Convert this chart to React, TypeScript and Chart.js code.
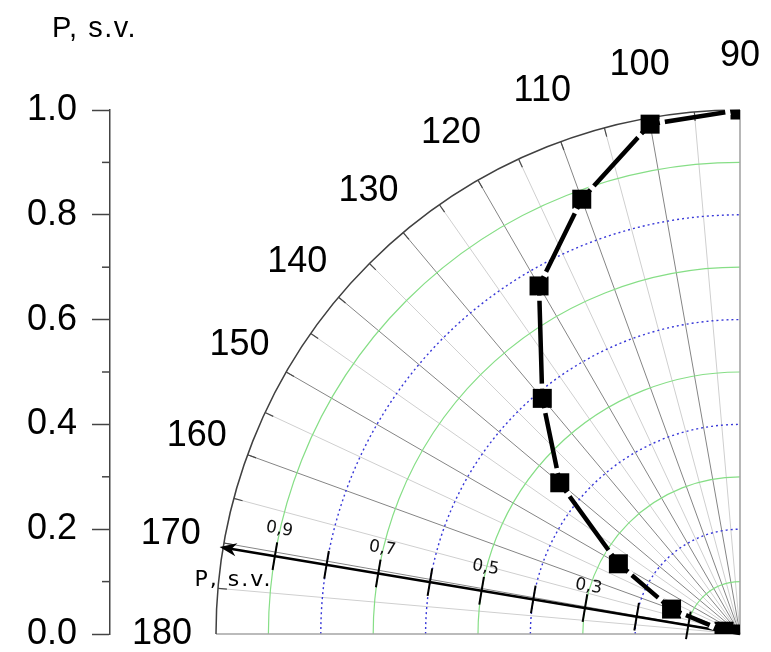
import React, { useEffect, useRef } from "react";
import { Chart, registerables } from "chart.js";

Chart.register(...registerables);

// ---- data ----
const angles = [90, 100, 110, 120, 130, 140, 150, 160, 170, 180];
const pValues = [1.0, 0.988, 0.883, 0.767, 0.587, 0.449, 0.268, 0.139, 0.031, 0.0];
const yTickValues = [0, 0.2, 0.4, 0.6, 0.8, 1.0];
const yMinorTicks = [0.1, 0.3, 0.5, 0.7, 0.9];
const angleLabels = [90, 100, 110, 120, 130, 140, 150, 160, 170, 180];
const ringValues = [0.1, 0.2, 0.3, 0.4, 0.5, 0.6, 0.7, 0.8, 0.9];
const axisTickValues = [0.1, 0.2, 0.3, 0.4, 0.5, 0.6, 0.7, 0.8, 0.9];
const axisLabelValues = [0.9, 0.7, 0.5, 0.3];
const axisLabelTexts = ["0,9", "0,7", "0,5", "0,3"];
const axisAngle = 170.5;
const axisTitle = "P, s.v.";

const toRad = (d: number) => (d * Math.PI) / 180;
const points = angles.map((a, i) => ({
  x: pValues[i] * Math.cos(toRad(a)),
  y: pValues[i] * Math.sin(toRad(a)),
}));

const SANS = "'Liberation Sans', Arial, sans-serif";
const DEJA = "'DejaVu Sans', sans-serif";

const polarPlugin = {
  id: "polarGrid",
  beforeDatasetsDraw(chart: any) {
    const { ctx } = chart;
    const xs = chart.scales.x;
    const ys = chart.scales.y;
    const cx = xs.getPixelForValue(0);
    const cy = ys.getPixelForValue(0);
    const R = cy - ys.getPixelForValue(1);
    const pt = (deg: number, r: number) => {
      const a = toRad(deg);
      return [cx + Math.cos(a) * r * R, cy - Math.sin(a) * r * R];
    };
    ctx.save();
    // radial lines
    for (let d = 95; d < 180; d += 5) {
      const [ex, ey] = pt(d, 1);
      ctx.strokeStyle = d % 10 === 0 ? "#858585" : "#cfcfcf";
      ctx.lineWidth = 1;
      ctx.beginPath();
      ctx.moveTo(cx, cy);
      ctx.lineTo(ex, ey);
      ctx.stroke();
    }
    // rings
    ringValues.forEach((r) => {
      const even = Math.round(r * 10) % 2 === 0;
      ctx.setLineDash(even ? [2, 3] : []);
      ctx.strokeStyle = even ? "#3838d8" : "#86de86";
      ctx.lineWidth = even ? 1.4 : 1.2;
      ctx.beginPath();
      ctx.arc(cx, cy, r * R, Math.PI, 1.5 * Math.PI);
      ctx.stroke();
    });
    ctx.setLineDash([]);
    // 90 & 180 border lines
    ctx.strokeStyle = "#a5a5a5";
    ctx.lineWidth = 1.6;
    ctx.beginPath();
    ctx.moveTo(cx, cy - R);
    ctx.lineTo(cx, cy);
    ctx.lineTo(cx - R, cy);
    ctx.stroke();
    // outer arc
    ctx.strokeStyle = "#404040";
    ctx.lineWidth = 1.5;
    ctx.beginPath();
    ctx.arc(cx, cy, R, Math.PI, 1.5 * Math.PI);
    ctx.stroke();
    // outer tick marks
    ctx.strokeStyle = "#4a4a4a";
    ctx.lineWidth = 1.2;
    for (let d = 95; d < 180; d += 5) {
      const [ax, ay] = pt(d, 1);
      const [bx, by] = pt(d, 1 - 9 / R);
      ctx.beginPath();
      ctx.moveTo(ax, ay);
      ctx.lineTo(bx, by);
      ctx.stroke();
    }
    // angle labels
    ctx.fillStyle = "#000";
    ctx.font = `36px ${SANS}`;
    ctx.textAlign = "center";
    ctx.textBaseline = "middle";
    angleLabels.forEach((d) => {
      const [lx, ly] = pt(d, 578 / 524);
      ctx.fillText(String(d), lx, ly);
    });

    // tilted P axis with arrow
    const a = toRad(axisAngle);
    const ux = Math.cos(a);
    const uy = -Math.sin(a);
    const nx = -uy;
    const ny = ux;
    const sgn = ny < 0 ? 1 : -1;
    const px = nx * sgn;
    const py = ny * sgn;
    const [tx, ty] = pt(axisAngle, 1.007);
    ctx.strokeStyle = "#000";
    ctx.lineWidth = 2.6;
    ctx.beginPath();
    ctx.moveTo(cx, cy);
    ctx.lineTo(tx - ux * 8, ty - uy * 8);
    ctx.stroke();
    ctx.fillStyle = "#000";
    ctx.beginPath();
    ctx.moveTo(tx, ty);
    ctx.lineTo(tx - ux * 17 + px * 6.5, ty - uy * 17 + py * 6.5);
    ctx.lineTo(tx - ux * 12, ty - uy * 12);
    ctx.lineTo(tx - ux * 17 - px * 6.5, ty - uy * 17 - py * 6.5);
    ctx.closePath();
    ctx.fill();
    // axis ticks
    ctx.lineWidth = 2;
    axisTickValues.forEach((r) => {
      const [qx, qy] = pt(axisAngle, r);
      ctx.beginPath();
      ctx.moveTo(qx - px * 14, qy - py * 14);
      ctx.lineTo(qx + px * 14, qy + py * 14);
      ctx.stroke();
    });
    // axis tick labels
    const rot = Math.atan2(-uy, -ux);
    ctx.font = `17px ${DEJA}`;
    ctx.fillStyle = "#111";
    axisLabelValues.forEach((r, i) => {
      const [qx, qy] = pt(axisAngle, r);
      const off = 19 + 9 * r;
      ctx.save();
      ctx.translate(qx + px * off, qy + py * off);
      ctx.rotate(rot);
      ctx.fillText(axisLabelTexts[i], 0, 0);
      ctx.restore();
    });
    // axis title near arrow tip
    ctx.font = `22px ${DEJA}`;
    ctx.textAlign = "left";
    ctx.textBaseline = "alphabetic";
    ctx.fillStyle = "#000";
    (ctx as any).letterSpacing = "2px";
    ctx.fillText(axisTitle, tx - 25, ty + 39);

    // left axis minor ticks
    (ctx as any).letterSpacing = "0px";
    ctx.strokeStyle = "#444";
    ctx.lineWidth = 1.5;
    yMinorTicks.forEach((v) => {
      const yy = ys.getPixelForValue(v);
      ctx.beginPath();
      ctx.moveTo(ys.right - 8, yy);
      ctx.lineTo(ys.right, yy);
      ctx.stroke();
    });
    // left axis title
    ctx.font = `29px ${SANS}`;
    ctx.fillStyle = "#000";
    (ctx as any).letterSpacing = "1.5px";
    ctx.fillText(axisTitle, ys.right - 58, ys.getPixelForValue(1) - 73);
    (ctx as any).letterSpacing = "0px";
    ctx.restore();
  },
  afterDatasetsDraw(chart: any) {
    const { ctx } = chart;
    const meta = chart.getDatasetMeta(0);
    const els = meta.data;
    const h = 9;
    const gap = 5;
    ctx.save();
    ctx.strokeStyle = "#ffffff";
    ctx.lineWidth = 6.5;
    ctx.lineCap = "butt";
    for (let i = 0; i < els.length - 1; i++) {
      const p = els[i];
      const q = els[i + 1];
      const dx = q.x - p.x;
      const dy = q.y - p.y;
      const len = Math.hypot(dx, dy);
      if (len < 2 * (h * 1.5 + gap)) continue;
      const ux = dx / len;
      const uy = dy / len;
      const t = h / Math.max(Math.abs(ux), Math.abs(uy)) + 0.8;
      ctx.beginPath();
      ctx.moveTo(p.x + ux * t, p.y + uy * t);
      ctx.lineTo(p.x + ux * (t + gap), p.y + uy * (t + gap));
      ctx.moveTo(q.x - ux * t, q.y - uy * t);
      ctx.lineTo(q.x - ux * (t + gap), q.y - uy * (t + gap));
      ctx.stroke();
    }
    ctx.restore();
  },
};

export default function App() {
  const ref = useRef<HTMLCanvasElement | null>(null);
  useEffect(() => {
    if (!ref.current) return;
    const chart = new Chart(ref.current, {
      type: "scatter",
      data: {
        datasets: [
          {
            data: points,
            showLine: true,
            borderColor: "#000",
            borderWidth: 4.5,
            backgroundColor: "#000",
            pointStyle: "rect",
            pointRadius: 9.5 / Math.SQRT1_2,
            pointBorderWidth: 0,
            pointBackgroundColor: "#000",
            clip: 0,
          } as any,
        ],
      },
      options: {
        responsive: false,
        animation: false,
        events: [],
        layout: { padding: { left: 0, right: 31, top: 110, bottom: 18 } },
        plugins: { legend: { display: false }, tooltip: { enabled: false } },
        scales: {
          x: {
            type: "linear",
            display: false,
            min: -(740 - 110) / (634 - 110),
            max: 0,
          },
          y: {
            type: "linear",
            min: 0,
            max: 1,
            afterBuildTicks: (scale: any) => {
              scale.ticks = yTickValues.map((v) => ({ value: v }));
            },
            afterFit: (scale: any) => {
              scale.width = 110;
              scale.paddingTop = 0;
              scale.paddingBottom = 0;
            },
            border: { display: true, color: "#444", width: 1.5 },
            grid: {
              drawOnChartArea: false,
              tickLength: 18,
              tickColor: "#444",
              tickWidth: 1.5,
            },
            ticks: {
              padding: 15,
              color: "#000",
              font: { family: SANS, size: 36 },
              callback: (v: any) => Number(v).toFixed(1),
            },
          },
        },
      },
      plugins: [polarPlugin],
    });
    return () => chart.destroy();
  }, []);
  return (
    <div style={{ position: "absolute", left: 0, top: 0, width: 771, height: 652, background: "#fff" }}>
      <canvas ref={ref} width={771} height={652} style={{ display: "block" }} />
    </div>
  );
}
